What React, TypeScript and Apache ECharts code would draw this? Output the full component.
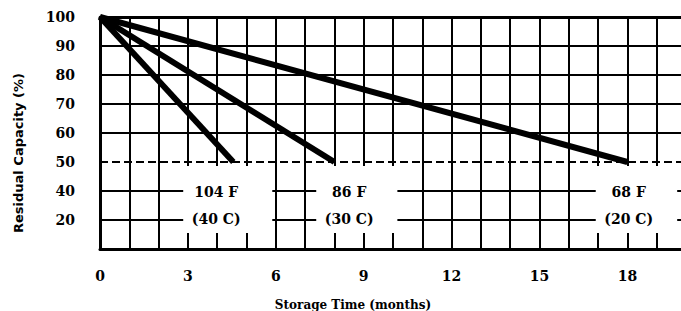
import { useEffect, useRef } from "react";
import * as echarts from "echarts";

// x axis: storage time in months, labelled every 3 months
const xTickLabels = [0, 3, 6, 9, 12, 15, 18];
// y axis (the scale is compressed below 50 %: the bottom rows read 40 and 20)
const yTickValues = [20, 30, 40, 50, 60, 70, 80, 90, 100];
const yTickLabels = ["", "20", "40", "50", "60", "70", "80", "90", "100"];

// residual capacity lines [month, %]
const line40C = [[0, 100], [4.55, 50]];
const line30C = [[0, 100], [8.0, 50]];
const line20C = [[0, 100], [18.0, 50]];

const tempF = ["104 F", "86 F", "68 F"];
const tempC = ["(40 C)", "(30 C)", "(20 C)"];
// month span of the blank label boxes under the 50 % line
const boxFrom = [2.84, 7.38, 16.92];
const boxTo = [5.88, 10.15, 19.7];

const X_MAX = 19.83;
const BOX_BOTTOM = 25.5;
const BOX_TOP = 48.6;

export default function App() {
  const ref = useRef<HTMLDivElement>(null);
  useEffect(() => {
    if (!ref.current) return;
    const chart = echarts.init(ref.current, undefined, { renderer: "svg" });
    const lines = [line40C, line30C, line20C];
    const splitColors = yTickValues.map((v) => (v === 50 ? "rgba(0,0,0,0)" : "#000"));
    const series: any[] = lines.map((d, i) => ({
      type: "line",
      data: d,
      showSymbol: false,
      symbol: "none",
      lineStyle: { color: "#000", width: 6, cap: "butt" },
      z: 3,
      markArea: {
        silent: true,
        itemStyle: { color: "#fff", borderWidth: 0 },
        label: {
          show: true,
          position: [33, 39.5],
          align: "center",
          verticalAlign: "middle",
          color: "#000",
          fontFamily: "DejaVu Serif",
          fontWeight: "bold",
          fontSize: 14,
          lineHeight: 27,
          formatter: () => tempF[i] + "\n" + tempC[i],
        },
        data: [[{ xAxis: boxFrom[i], yAxis: BOX_BOTTOM }, { xAxis: boxTo[i], yAxis: BOX_TOP }]],
      },
      ...(i === 0
        ? {
            markLine: {
              silent: true,
              symbol: "none",
              label: { show: false },
              lineStyle: { color: "#000", width: 2, type: [8, 4] },
              data: [{ yAxis: 50 }],
            },
          }
        : {}),
    }));

    chart.setOption({
      animation: false,
      grid: { left: 100, top: 17, right: 0, bottom: 62, containLabel: false },
      xAxis: [
        {
          type: "value",
          min: 0,
          max: X_MAX,
          interval: 1,
          axisLine: { show: true, lineStyle: { color: "#000", width: 3 } },
          axisTick: { show: false },
          axisLabel: {
            margin: 20,
            color: "#000",
            fontFamily: "DejaVu Serif",
            fontWeight: "bold",
            fontSize: 14,
            showMaxLabel: false,
            formatter: (v: number) => (xTickLabels.includes(v) ? String(v) : ""),
          },
          splitLine: { show: true, showMaxLine: false, lineStyle: { color: "#000", width: 2 } },
        },
        {
          type: "value",
          position: "top",
          min: 0,
          max: X_MAX,
          interval: 1,
          axisLine: { show: true, lineStyle: { color: "#000", width: 3 } },
          axisTick: { show: false },
          axisLabel: { show: false },
          splitLine: { show: false },
        },
      ],
      yAxis: {
        type: "value",
        min: 20,
        max: 100,
        interval: 10,
        axisLine: { show: true, lineStyle: { color: "#000", width: 3 } },
        axisTick: { show: false },
        axisLabel: {
          margin: 25,
          color: "#000",
          fontFamily: "DejaVu Serif",
          fontWeight: "bold",
          fontSize: 14,
          formatter: (v: number) => {
            const k = yTickValues.indexOf(v);
            return k >= 0 ? yTickLabels[k] : "";
          },
        },
        splitLine: { show: true, lineStyle: { color: splitColors, width: 2 } },
      },
      graphic: [
        {
          type: "text",
          x: 18,
          y: 153,
          rotation: Math.PI / 2,
          style: {
            text: "Residual Capacity (%)",
            fontFamily: "DejaVu Sans",
            fontWeight: "bold",
            fontSize: 13,
            fill: "#000",
            align: "center",
            verticalAlign: "middle",
          },
        },
        {
          type: "text",
          x: 353,
          y: 305,
          style: {
            text: "Storage Time (months)",
            fontFamily: "DejaVu Serif",
            fontWeight: "bold",
            fontSize: 12,
            fill: "#000",
            align: "center",
            verticalAlign: "middle",
          },
        },
      ],
      series,
    });
    return () => chart.dispose();
  }, []);
  return (
    <div
      ref={ref}
      style={{ position: "fixed", left: 0, top: 0, width: 681, height: 311, background: "#fff" }}
    />
  );
}
